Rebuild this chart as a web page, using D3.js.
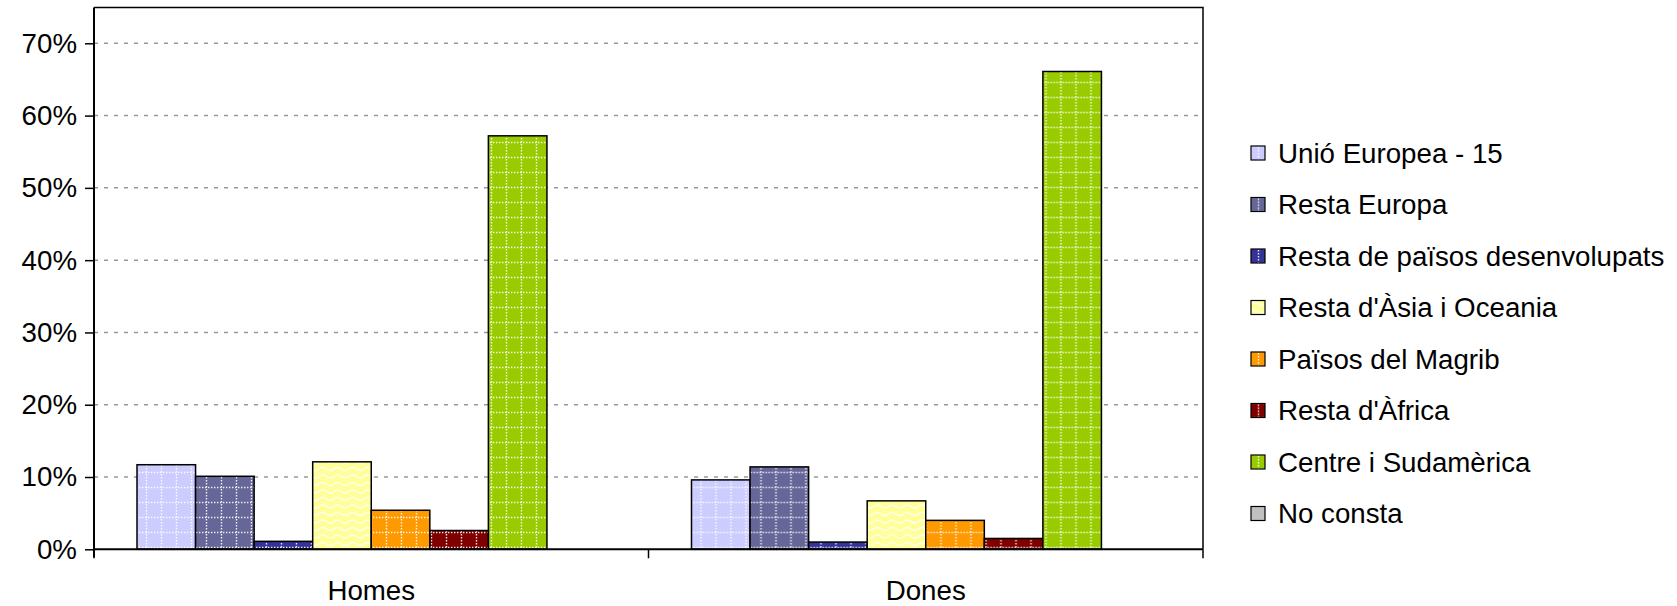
<!DOCTYPE html>
<html><head><meta charset="utf-8">
<script src="https://cdn.jsdelivr.net/npm/d3@7"></script>
<style>
html,body{margin:0;padding:0;background:#fff;}
svg{display:block;font-family:"Liberation Sans",Arial,Helvetica,sans-serif;}
</style></head>
<body><svg id="c" width="1677" height="606"></svg>
<script>
const categories = ["Homes", "Dones"];
const seriesNames = ["Unió Europea - 15","Resta Europa","Resta de països desenvolupats","Resta d'Àsia i Oceania","Països del Magrib","Resta d'Àfrica","Centre i Sudamèrica","No consta"];
const homesValues = [11.7, 10.1, 1.1, 12.1, 5.4, 2.6, 57.2, 0];
const donesValues = [9.6, 11.4, 1.0, 6.7, 4.0, 1.5, 66.1, 0];
const yTicks = [0, 10, 20, 30, 40, 50, 60, 70];
const colors = ["#ccccff","#666699","#333399","#ffff99","#ff9900","#800000","#99cc00","#c0c0c0"];
const patternKind = ["grid","grid","grid","wave","grid","grid","grid","none"];

const FS = 27.7;
const svg = d3.select("#c");
const m = {left:94, right:1203, top:7.5, bottom:549.3};
const defs = svg.append("defs");

colors.forEach((c,i)=>{
  const p = defs.append("pattern").attr("id","p"+i).attr("patternUnits","userSpaceOnUse")
    .attr("width",15).attr("height",15);
  p.append("rect").attr("width",15).attr("height",15).attr("fill",c);
  if (patternKind[i]==="grid") {
    p.append("line").attr("x1",0).attr("x2",15).attr("y1",7.5).attr("y2",7.5)
      .attr("stroke","#fff").attr("stroke-width",1.4).attr("stroke-dasharray","1.4,1.6").attr("opacity",0.9);
    p.append("line").attr("x1",7.5).attr("x2",7.5).attr("y1",0).attr("y2",15)
      .attr("stroke","#fff").attr("stroke-width",1.4).attr("stroke-dasharray","1.4,1.6").attr("opacity",0.9);
  } else if (patternKind[i]==="wave") {
    for (const yy of [4, 11.5]) {
      p.append("path").attr("d",`M0,${yy} Q3.75,${yy-3} 7.5,${yy} T15,${yy}`)
        .attr("fill","none").attr("stroke","#fff").attr("stroke-width",1.5).attr("opacity",0.85);
    }
  }
});

const y = d3.scaleLinear().domain([0,70]).range([m.bottom, 43.3]);
const x0 = d3.scaleBand().domain(categories).range([m.left, m.right]);
const x1 = d3.scaleBand().domain(seriesNames).range([43, x0.bandwidth()-43]);

// gridlines
svg.append("g").selectAll("line").data(yTicks.filter(d=>d>0)).join("line")
  .attr("x1",m.left).attr("x2",m.right).attr("y1",d=>y(d)).attr("y2",d=>y(d))
  .attr("stroke","#999").attr("stroke-width",1.5).attr("stroke-dasharray","4,6");

// plot box top/right
svg.append("path").attr("d",`M${m.left},${m.top}H${m.right}V${m.bottom}`)
  .attr("fill","none").attr("stroke","#000").attr("stroke-width",1.5);

// bars
const data = categories.map((c,ci)=>({cat:c, vals:(ci===0?homesValues:donesValues)}));
const g = svg.append("g");
data.forEach(d=>{
  g.append("g").attr("transform",`translate(${x0(d.cat)},0)`)
    .selectAll("rect").data(d.vals.map((v,i)=>({v,i}))).join("rect")
    .filter(e=>e.v>0)
    .attr("x",e=>x1(seriesNames[e.i])).attr("width",x1.bandwidth())
    .attr("y",e=>y(e.v)).attr("height",e=>y(0)-y(e.v))
    .attr("fill",e=>`url(#p${e.i})`).attr("stroke","#000").attr("stroke-width",1.5);
});

// y axis
const yAxis = d3.axisLeft(y).tickValues(yTicks).tickFormat(d=>d+"%").tickSize(9).tickPadding(8);
const ya = svg.append("g").attr("transform",`translate(${m.left},0)`).call(yAxis);
ya.select(".domain").attr("d",`M0,${m.top}V${m.bottom+8}`).attr("stroke","#000").attr("stroke-width",2);
ya.selectAll(".tick line").attr("stroke","#000").attr("stroke-width",1.5);
ya.selectAll("text").attr("font-size",FS).attr("fill","#000").attr("font-family","Liberation Sans, Arial, sans-serif");

// x axis
const xa = svg.append("g").attr("transform",`translate(0,${m.bottom})`);
xa.append("line").attr("x1",m.left).attr("x2",m.right).attr("stroke","#000").attr("stroke-width",2);
const xt = [m.left, ...categories.slice(1).map(c=>x0(c)), m.right];
xa.selectAll(".tk").data(xt).join("line").attr("class","tk")
  .attr("x1",d=>d).attr("x2",d=>d).attr("y1",0).attr("y2",9).attr("stroke","#000").attr("stroke-width",1.5);
xa.selectAll("text").data(categories).join("text")
  .attr("x",d=>x0(d)+x0.bandwidth()/2).attr("y",51).attr("text-anchor","middle")
  .attr("font-size",FS).attr("fill","#000").text(d=>d);

// legend
const lg = svg.append("g").attr("transform","translate(1251,153)");
const li = lg.selectAll("g").data(seriesNames).join("g").attr("transform",(d,i)=>`translate(0,${i*51.5})`);
li.append("rect").attr("x",0).attr("y",-7).attr("width",14).attr("height",14)
  .attr("fill",(d,i)=>`url(#p${i})`).attr("stroke","#000").attr("stroke-width",1.2);
li.append("text").attr("x",27).attr("y",0).attr("dy","0.36em").attr("font-size",FS).attr("fill","#000").text(d=>d);
</script></body></html>
